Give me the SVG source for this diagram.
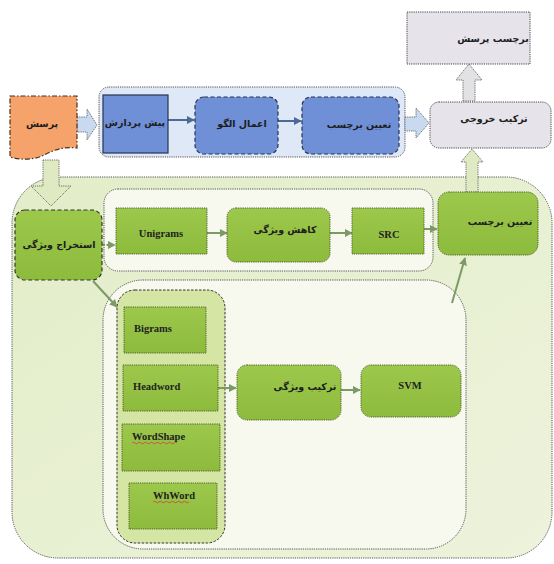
<svg xmlns="http://www.w3.org/2000/svg" width="554" height="564" viewBox="0 0 554 564">
<defs>
<style>
.fa{font-family:"DejaVu Sans","Noto Sans",sans-serif;font-size:9.5px;font-weight:bold;fill:#1e1e1e;text-anchor:middle}
.en{font-family:"Liberation Serif",serif;font-size:10.5px;font-weight:bold;fill:#222}
.gnode{fill:url(#gg);stroke:#4f5e2c;stroke-width:1;stroke-dasharray:1.2 1}
.gdash{fill:url(#gg);stroke:#333;stroke-width:1.2;stroke-dasharray:4 2.5}
.bnode{fill:#6f8fd6;stroke:#27344f;stroke-width:1.2;stroke-dasharray:4 2.5}
.gray{fill:#e6e4ea;stroke:#444;stroke-width:1;stroke-dasharray:1.2 1}
.cont{fill:#f7f9ef;stroke:#555;stroke-width:1;stroke-dasharray:1.2 1}
.ln{fill:none;stroke:#7c9a66;stroke-width:2;marker-end:url(#ag)}
.lnb{fill:none;stroke:#4c6a98;stroke-width:2;marker-end:url(#ab)}
.blk{stroke:#6b6b6b;stroke-width:1;stroke-dasharray:1.2 1}
.wavy{fill:none;stroke:#d23c3c;stroke-width:0.8}
</style>
<linearGradient id="gg" x1="0" y1="0" x2="0" y2="1">
<stop offset="0" stop-color="#9cc84c"/>
<stop offset="1" stop-color="#8dbb3c"/>
</linearGradient>
<linearGradient id="bigg" x1="0" y1="0" x2="1" y2="1">
<stop offset="0" stop-color="#e3edc8"/>
<stop offset="1" stop-color="#edf3dc"/>
</linearGradient>
<marker id="ag" viewBox="0 0 10 10" refX="9" refY="5" markerWidth="4" markerHeight="4" orient="auto">
<path d="M0,0 L10,5 L0,10 z" fill="#7c9a66"/>
</marker>
<marker id="ab" viewBox="0 0 10 10" refX="9" refY="5" markerWidth="4" markerHeight="4" orient="auto">
<path d="M0,0 L10,5 L0,10 z" fill="#4c6a98"/>
</marker>
</defs>
<rect x="0" y="0" width="554" height="564" fill="#ffffff"/>

<g id="green-container">
<rect x="12" y="177" width="540" height="381" rx="46" ry="46" fill="url(#bigg)" stroke="#555" stroke-width="1" stroke-dasharray="1.2 1"/>
</g>
<g id="blue-container">
<rect x="99" y="87" width="306" height="70" rx="10" ry="10" fill="#dfe8f6" stroke="#555" stroke-width="1" stroke-dasharray="1.2 1"/>
</g>
<g id="row-container">
<rect class="cont" x="104" y="189" width="329" height="82" rx="14" ry="14"/>
</g>
<g id="lower-container">
<rect class="cont" x="103" y="280" width="363" height="269" rx="40" ry="40"/>
</g>
<g id="feature-column">
<rect x="117" y="290" width="108" height="253" rx="18" ry="18" fill="#d5e5a3" stroke="#333" stroke-width="1" stroke-dasharray="2.5 1.5"/>
</g>

<g id="connectors">
<line class="lnb" x1="168" y1="120" x2="194" y2="120"/>
<line class="lnb" x1="278" y1="121" x2="301" y2="121"/>
<line class="ln" x1="102" y1="245" x2="115" y2="245" stroke-dasharray="3 1.5"/>
<line class="ln" x1="207" y1="233" x2="227" y2="233"/>
<line class="ln" x1="330" y1="233" x2="352" y2="233"/>
<line class="ln" x1="424" y1="229" x2="437" y2="229"/>
<line class="ln" x1="93" y1="281" x2="117" y2="307"/>
<line class="ln" x1="452" y1="303" x2="465" y2="258"/>
<line class="ln" x1="218" y1="388" x2="236" y2="388"/>
<line class="ln" x1="341" y1="390" x2="360" y2="390"/>
<path class="blk" fill="#c9d9f0" d="M77,117 H87 V109 L97,125 L87,140 V132 H77 Z"/>
<path class="blk" fill="#c9d9f0" d="M405,117 H416 V108 L429,123 L416,138 V131 H405 Z"/>
<path class="blk" fill="#e2e1e4" d="M463,101 V80 H456 L469,64 L482,80 H475 V101 Z"/>
<path class="blk" fill="#e0eac2" d="M466,192 V162 H461 L472,149 L483,162 H478 V192 Z"/>
<path class="blk" fill="#e0eac2" d="M43,160 V186 H31 L51,206 L71,186 H59 V160 Z"/>
</g>

<g id="node-question-label">
<rect class="gray" x="407" y="12" width="123" height="52"/>
<text class="fa" x="493" y="42">برچسب پرسش</text>
</g>
<g id="node-output-combine">
<rect class="gray" x="430" y="102" width="121" height="46" rx="9" ry="9"/>
<text class="fa" x="494" y="122">ترکیب خروجی</text>
</g>
<g id="node-question">
<path d="M10,96 H77 V148 C62,146 52,151 42,156 C32,160 21,160 10,157 Z" fill="#f5a36b" stroke="#4a3020" stroke-width="1.2" stroke-dasharray="5 2 1.5 2"/>
<text class="fa" x="42" y="127">پرسش</text>
</g>
<g id="node-preprocess">
<rect x="103" y="95" width="65" height="58" fill="#6f8fd6" stroke="#27344f" stroke-width="1.2"/>
<text class="fa" x="135" y="126">پیش پردازش</text>
</g>
<g id="node-pattern">
<rect class="bnode" x="195" y="97" width="83" height="57" rx="9" ry="9"/>
<text class="fa" x="242" y="127">اعمال الگو</text>
</g>
<g id="node-label-blue">
<rect class="bnode" x="302" y="97" width="97" height="57" rx="9" ry="9"/>
<text class="fa" x="359" y="128">تعیین برچسب</text>
</g>
<g id="node-extract">
<rect class="gdash" x="15" y="210" width="87" height="70" rx="10" ry="10"/>
<text class="fa" x="59" y="248">استخراج ویژگی</text>
</g>
<g id="node-unigrams">
<rect class="gnode" x="116" y="208" width="91" height="46"/>
<text class="en" x="161" y="237" text-anchor="middle">Unigrams</text>
</g>
<g id="node-reduce">
<rect class="gnode" x="227" y="208" width="103" height="54" rx="9" ry="9"/>
<text class="fa" x="285" y="233">کاهش ویژگی</text>
</g>
<g id="node-src">
<rect class="gnode" x="352" y="208" width="72" height="46"/>
<text class="en" x="389" y="238" text-anchor="middle">SRC</text>
</g>
<g id="node-label-green">
<rect class="gnode" x="438" y="192" width="100" height="63" rx="11" ry="11"/>
<text class="fa" x="500" y="225">تعیین برچسب</text>
</g>
<g id="node-bigrams">
<rect class="gnode" x="124" y="307" width="82" height="46"/>
<text class="en" x="134" y="332">Bigrams</text>
</g>
<g id="node-headword">
<rect class="gnode" x="123" y="365" width="95" height="46"/>
<text class="en" x="133" y="390">Headword</text>
</g>
<g id="node-wordshape">
<rect class="gnode" x="122" y="424" width="98" height="47"/>
<text class="en" x="132" y="440">WordShape</text>
<path class="wavy" d="M132,443 q1.5,-1.5 3,0 t3,0 t3,0 t3,0 t3,0 t3,0 t3,0 t3,0 t3,0 t3,0 t3,0 t3,0 t3,0 t3,0 t3,0"/>
</g>
<g id="node-whword">
<rect class="gnode" x="129" y="483" width="88" height="46"/>
<text class="en" x="153" y="499">WhWord</text>
<path class="wavy" d="M153,502 q1.5,-1.5 3,0 t3,0 t3,0 t3,0 t3,0 t3,0 t3,0 t3,0 t3,0 t3,0 t3,0 t3,0"/>
</g>
<g id="node-combine">
<rect class="gnode" x="237" y="365" width="104" height="55" rx="10" ry="10"/>
<text class="fa" x="305" y="390">ترکیب ویژگی</text>
</g>
<g id="node-svm">
<rect class="gnode" x="361" y="365" width="100" height="52" rx="10" ry="10"/>
<text class="en" x="410" y="389" text-anchor="middle">SVM</text>
</g>
</svg>
